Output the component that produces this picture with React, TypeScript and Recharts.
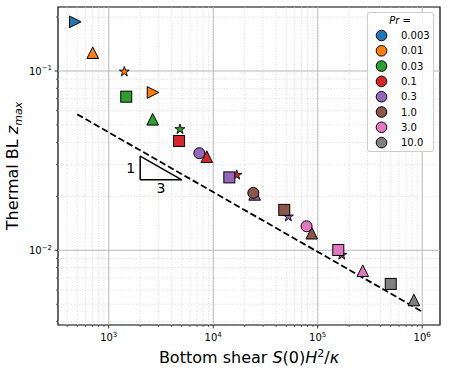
import React from 'react';
import { ComposedChart, Scatter, XAxis, YAxis, ReferenceLine, ReferenceArea, Label } from 'recharts';

const FONT = '"DejaVu Sans", sans-serif';

const PR_LABELS = ['0.003', '0.01', '0.03', '0.1', '0.3', '1.0', '3.0', '10.0'];
const PR_COLORS = ['#1f77b4', '#ff7f0e', '#2ca02c', '#d62728', '#9467bd', '#8c564b', '#e377c2', '#7f7f7f'];

// one list per Pr, marker = case
const pr0003 = [{ x: 479, y: 0.188, marker: 'right' }];
const pr001 = [
  { x: 703, y: 0.1265, marker: 'up' },
  { x: 1410, y: 0.0991, marker: 'star' },
  { x: 2655, y: 0.0759, marker: 'right' },
];
const pr003 = [
  { x: 1471, y: 0.0719, marker: 'square' },
  { x: 2636, y: 0.0538, marker: 'up' },
  { x: 4808, y: 0.0473, marker: 'star' },
];
const pr01 = [
  { x: 4708, y: 0.0407, marker: 'square' },
  { x: 8670, y: 0.0333, marker: 'up' },
  { x: 16790, y: 0.0263, marker: 'star' },
];
const pr03 = [
  { x: 7362, y: 0.0348, marker: 'circle' },
  { x: 14260, y: 0.0255, marker: 'square' },
  { x: 24900, y: 0.0205, marker: 'up' },
  { x: 52400, y: 0.0154, marker: 'star' },
];
const pr1 = [
  { x: 24200, y: 0.0209, marker: 'circle' },
  { x: 47860, y: 0.0168, marker: 'square' },
  { x: 87700, y: 0.01245, marker: 'up' },
  { x: 169800, y: 0.00942, marker: 'star' },
];
const pr3 = [
  { x: 78200, y: 0.01361, marker: 'circle' },
  { x: 157400, y: 0.01004, marker: 'square' },
  { x: 269900, y: 0.00769, marker: 'up' },
];
const pr10 = [
  { x: 500000, y: 0.00649, marker: 'square' },
  { x: 833000, y: 0.00528, marker: 'up' },
];
const SERIES = [pr0003, pr001, pr003, pr01, pr03, pr1, pr3, pr10];

// -1/3 guide line and slope triangle
const guideLine = [{ x: 500, y: 0.0573 }, { x: 1e6, y: 0.00455 }];
const slopeTri = { x0: 2000, x1: 5000, yTop: 0.0335, yBot: 0.0247 };

const X_DOMAIN = [327, 1.48e6];
const Y_DOMAIN = [0.00383, 0.2275];
const X_MAJOR = [1e3, 1e4, 1e5, 1e6];
const X_MINOR = [
  400, 500, 600, 700, 800, 900,
  2000, 3000, 4000, 5000, 6000, 7000, 8000, 9000,
  20000, 30000, 40000, 50000, 60000, 70000, 80000, 90000,
  200000, 300000, 400000, 500000, 600000, 700000, 800000, 900000,
];
const Y_MAJOR = [0.01, 0.1];
const Y_MINOR = [
  0.004, 0.005, 0.006, 0.007, 0.008, 0.009,
  0.02, 0.03, 0.04, 0.05, 0.06, 0.07, 0.08, 0.09,
  0.2,
];

const expOf = (v: number) => Math.round(Math.log10(v));
const isMajor = (list: number[], v: number) => list.some((m) => Math.abs(m - v) / m < 1e-9);

const XTick = ({ x, y, payload }: any) => {
  const major = isMajor(X_MAJOR, payload.value);
  return (
    <g>
      <line x1={x} x2={x} y1={y} y2={y + (major ? 3.5 : 2)} stroke="#000" strokeWidth={major ? 0.8 : 0.6} />
      {major && (
        <text x={x} y={y + 16} textAnchor="middle" fontSize={10} fontFamily={FONT} fill="#000">
          10<tspan dy={-4.5} fontSize={7}>{expOf(payload.value)}</tspan>
        </text>
      )}
    </g>
  );
};

const YTick = ({ x, y, payload }: any) => {
  const major = isMajor(Y_MAJOR, payload.value);
  const e = expOf(payload.value);
  return (
    <g>
      <line x1={x} x2={x - (major ? 3.5 : 2)} y1={y} y2={y} stroke="#000" strokeWidth={major ? 0.8 : 0.6} />
      {major && (
        <text x={x - 6} y={y + 4} textAnchor="end" fontSize={10} fontFamily={FONT} fill="#000">
          10<tspan dy={-4.5} fontSize={7}>{`\u2212${Math.abs(e)}`}</tspan>
        </text>
      )}
    </g>
  );
};

const starPath = (cx: number, cy: number, R: number) => {
  const r = R * 0.382;
  let d = '';
  for (let i = 0; i < 10; i++) {
    const a = -Math.PI / 2 + (i * Math.PI) / 5;
    const rr = i % 2 === 0 ? R : r;
    d += `${i === 0 ? 'M' : 'L'}${cx + rr * Math.cos(a)},${cy + rr * Math.sin(a)}`;
  }
  return d + 'Z';
};

const Marker = (props: any) => {
  const { cx, cy, payload, fill } = props;
  const common = { fill, stroke: '#000', strokeWidth: 1 };
  switch (payload.marker) {
    case 'square':
      return <rect x={cx - 5.5} y={cy - 5.5} width={11} height={11} {...common} />;
    case 'circle':
      return <circle cx={cx} cy={cy} r={5.5} {...common} />;
    case 'up':
      return <path d={`M${cx},${cy - 5.8}L${cx + 5.8},${cy + 5.8}L${cx - 5.8},${cy + 5.8}Z`} {...common} />;
    case 'right':
      return <path d={`M${cx + 5.8},${cy}L${cx - 5.8},${cy + 5.8}L${cx - 5.8},${cy - 5.8}Z`} {...common} />;
    default:
      return <path d={starPath(cx, cy, 5.2)} {...common} strokeWidth={0.9} />;
  }
};

const XAxisLabel = ({ viewBox }: any) => (
  <text x={viewBox.x + viewBox.width / 2} y={viewBox.y + 38} textAnchor="middle" fontSize={16} fontFamily={FONT} fill="#000">
    Bottom shear <tspan fontStyle="italic">S</tspan>(0)<tspan fontStyle="italic">H</tspan>
    <tspan dy={-6} fontSize={11}>2</tspan>
    <tspan dy={6}>/</tspan>
    <tspan fontStyle="italic">κ</tspan>
  </text>
);

const YAxisLabel = ({ viewBox }: any) => {
  const cx = 18;
  const cy = viewBox.y + viewBox.height / 2;
  return (
    <text x={cx} y={cy} transform={`rotate(-90 ${cx} ${cy})`} textAnchor="middle" fontSize={16} fontFamily={FONT} fill="#000">
      Thermal BL <tspan fontStyle="italic">z</tspan>
      <tspan dy={4} fontSize={11} fontStyle="italic">max</tspan>
    </text>
  );
};

const LegendBox = () => (
  <div
    style={{
      position: 'absolute',
      left: 367,
      top: 12,
      width: 67,
      height: 140,
      border: '1px solid #cccccc',
      borderRadius: 3,
      background: 'rgba(255,255,255,0.85)',
      boxSizing: 'border-box',
    }}
  >
    <svg width={67} height={140} style={{ position: 'absolute', left: -1, top: -1 }}>
      <text x={33} y={12} textAnchor="middle" fontSize={10} fontFamily={FONT} fill="#000">
        <tspan fontStyle="italic">Pr</tspan> =
      </text>
      {PR_LABELS.map((lab, i) => (
        <g key={lab}>
          <circle cx={14.5} cy={23.5 + i * 15.3} r={5.3} fill={PR_COLORS[i]} stroke="#000" strokeWidth={1} />
          <text x={34} y={27 + i * 15.3} fontSize={10} fontFamily={FONT} fill="#000">
            {lab}
          </text>
        </g>
      ))}
    </svg>
  </div>
);

export default function App() {
  return (
    <div style={{ position: 'absolute', left: 0, top: 0, width: 449, height: 374, background: '#fff' }}>
      <ComposedChart width={449} height={374} margin={{ top: 7, right: 9, left: 0, bottom: 0 }}>
        <XAxis
          type="number"
          dataKey="x"
          scale="log"
          domain={X_DOMAIN}
          allowDataOverflow
          ticks={[...X_MAJOR, ...X_MINOR]}
          interval={0}
          tickSize={0}
          tickMargin={0}
          axisLine={false}
          tickLine={false}
          tick={<XTick />}
          height={49}
        >
          <Label content={<XAxisLabel />} />
        </XAxis>
        <YAxis
          type="number"
          dataKey="y"
          scale="log"
          domain={Y_DOMAIN}
          allowDataOverflow
          ticks={[...Y_MAJOR, ...Y_MINOR]}
          interval={0}
          tickSize={0}
          tickMargin={0}
          axisLine={false}
          tickLine={false}
          tick={<YTick />}
          width={58}
        >
          <Label content={<YAxisLabel />} />
        </YAxis>

        {X_MINOR.map((v) => (
          <ReferenceLine key={`xm${v}`} x={v} stroke="#d3d3d3" strokeWidth={0.8} strokeDasharray="1 1.6" />
        ))}
        {Y_MINOR.map((v) => (
          <ReferenceLine key={`ym${v}`} y={v} stroke="#d3d3d3" strokeWidth={0.8} strokeDasharray="1 1.6" />
        ))}
        {X_MAJOR.map((v) => (
          <ReferenceLine key={`xM${v}`} x={v} stroke="#b8b8b8" strokeWidth={1} />
        ))}
        {Y_MAJOR.map((v) => (
          <ReferenceLine key={`yM${v}`} y={v} stroke="#b8b8b8" strokeWidth={1} />
        ))}

        <ReferenceLine
          segment={guideLine}
          stroke="#000"
          strokeWidth={1.8}
          strokeDasharray="6.5 3"
          ifOverflow="visible"
        />
        <ReferenceLine
          segment={[{ x: slopeTri.x0, y: slopeTri.yTop }, { x: slopeTri.x0, y: slopeTri.yBot }]}
          stroke="#000"
          strokeWidth={1.5}
        >
          <Label value="1" position="left" offset={5} fontSize={14} fontFamily={FONT} fill="#000" />
        </ReferenceLine>
        <ReferenceLine
          segment={[{ x: slopeTri.x0, y: slopeTri.yBot }, { x: slopeTri.x1, y: slopeTri.yBot }]}
          stroke="#000"
          strokeWidth={1.5}
        >
          <Label value="3" position="bottom" offset={3} fontSize={14} fontFamily={FONT} fill="#000" />
        </ReferenceLine>
        <ReferenceLine
          segment={[{ x: slopeTri.x0, y: slopeTri.yTop }, { x: slopeTri.x1, y: slopeTri.yBot }]}
          stroke="#000"
          strokeWidth={1.5}
        />

        {SERIES.map((d, i) => (
          <Scatter
            key={PR_LABELS[i]}
            name={PR_LABELS[i]}
            data={d}
            fill={PR_COLORS[i]}
            shape={<Marker />}
            isAnimationActive={false}
          />
        ))}

        <ReferenceArea
          x1={X_DOMAIN[0]}
          x2={X_DOMAIN[1]}
          y1={Y_DOMAIN[0]}
          y2={Y_DOMAIN[1]}
          fill="none"
          stroke="#000"
          strokeWidth={1.2}
          ifOverflow="visible"
        />
      </ComposedChart>
      <LegendBox />
    </div>
  );
}
